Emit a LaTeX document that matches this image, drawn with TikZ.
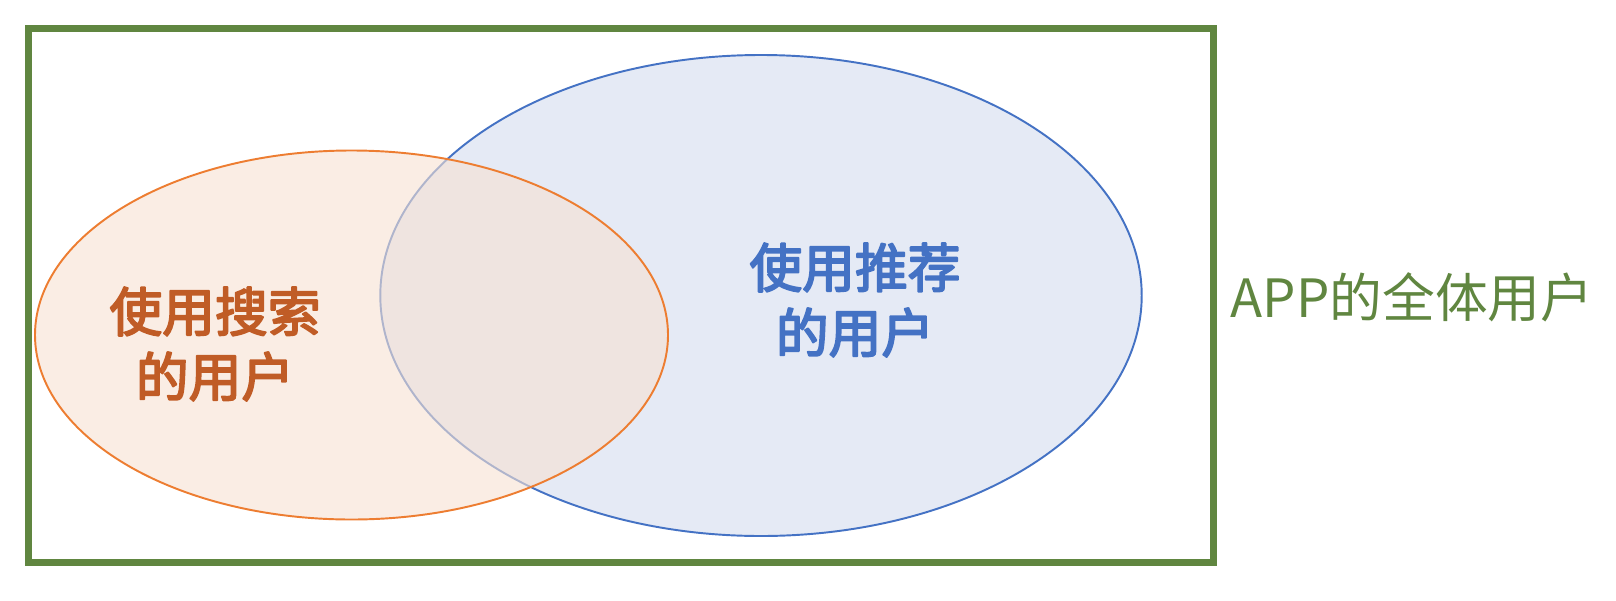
\documentclass[tikz,border=0pt]{standalone}
\usepackage{fontspec}
\setmainfont{Noto Sans CJK SC}
\newfontfamily\cuti[FakeBold=3.5]{Noto Sans CJK SC}
\definecolor{kuang}{RGB}{96,134,64}
\definecolor{juxian}{RGB}{237,125,49}
\definecolor{juzi}{RGB}{192,92,38}
\definecolor{juti}{RGB}{247,225,210}
\definecolor{lanxian}{RGB}{68,114,196}
\definecolor{lanti}{RGB}{229,234,245}
\begin{document}
\begin{tikzpicture}[x=0.01cm,y=-0.01cm,line join=round,line cap=round,
	wenzi/.style={font=\fontsize{15pt}{18.5pt}\selectfont,align=center,inner sep=0pt}]
	\useasboundingbox (0,0) rectangle (1616,600);
	\draw[kuang,line width=7*0.01cm,line join=miter] (28.5,28.5) rectangle (1213,562);
	\draw[lanxian,fill=lanti,line width=0.55pt] (761,295.5) ellipse [x radius=380.7,y radius=240.5];
	\draw[juxian,fill=juti,fill opacity=0.6,line width=0.55pt] (351.5,335) ellipse [x radius=316.5,y radius=184.5];
	\node[wenzi,text=juzi,font=\fontsize{15pt}{18.5pt}\selectfont\cuti] (sousuo) at (215,344) {使用搜索\\的用户};
	\node[wenzi,text=lanxian,font=\fontsize{15pt}{18.5pt}\selectfont\cuti] (tuijian) at (855,300) {使用推荐\\的用户};
	\node[wenzi,text=kuang,anchor=west] (quanti) at (1230,297) {APP的全体用户};
\end{tikzpicture}
\end{document}
